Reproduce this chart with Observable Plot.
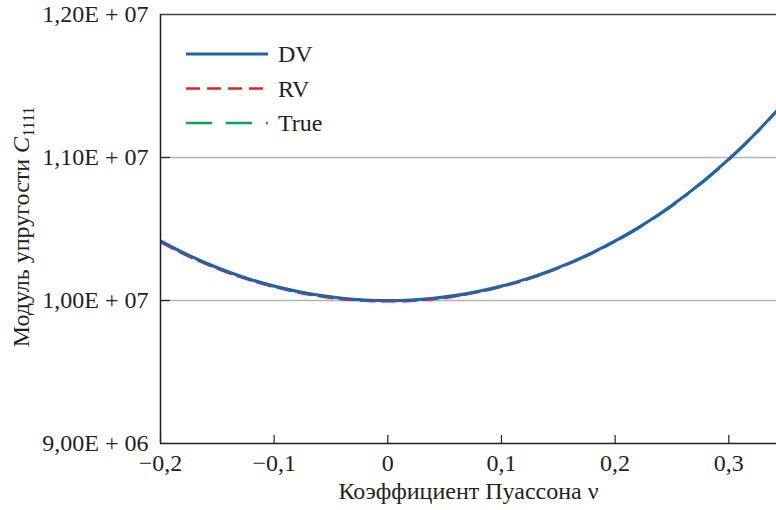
<!DOCTYPE html>
<html>
<head>
<meta charset="utf-8">
<script src="https://cdn.jsdelivr.net/npm/d3@7"></script>
<script src="https://cdn.jsdelivr.net/npm/@observablehq/plot@0.6"></script>
<style>
  html, body { margin: 0; padding: 0; background: #fff; }
  #chart { position: relative; width: 776px; height: 510px; }
  #chart svg, #chart svg text { font-family: "Liberation Serif", "Times New Roman", serif !important; }
</style>
</head>
<body>
<div id="chart"></div>
<script>
// Poisson ratio (x) values
const nu = [-0.20, -0.18, -0.16, -0.14, -0.12, -0.10, -0.08, -0.06, -0.04, -0.02, 0.00,
            0.02, 0.04, 0.06, 0.08, 0.10, 0.12, 0.14, 0.16, 0.18, 0.20,
            0.22, 0.24, 0.26, 0.28, 0.30, 0.32, 0.34, 0.345];
// Series values (C1111)
const dvValues = [10417000, 10335000, 10263000, 10200000, 10146000, 10101000, 10065000, 10036000, 10016000, 10004000, 10000000,
                  10004000, 10016000, 10036000, 10065000, 10101000, 10146000, 10200000, 10263000, 10335000, 10417000,
                  10508000, 10611000, 10725000, 10851000, 10989000, 11140000, 11307000, 11352000];
const rvValues = [10408000, 10326000, 10255000, 10192000, 10139000, 10094000, 10058000, 10029000, 10009000, 9998000, 9994000,
                  9997000, 10009000, 10030000, 10059000, 10096000, 10141000, 10195000, 10259000, 10331000, 10414000,
                  10505000, 10609000, 10723000, 10849000, 10987000, 11139000, 11306000, 11351000];
const trueValues = [10413000, 10331000, 10260000, 10197000, 10143000, 10098000, 10062000, 10033000, 10013000, 10001000, 9997000,
                    10001000, 10013000, 10033000, 10062000, 10098000, 10143000, 10196000, 10259000, 10330000, 10412000,
                    10503000, 10605000, 10719000, 10845000, 10984000, 11135000, 11303000, 11349000];
// Ticks and labels
const xTicks = [-0.2, -0.1, 0, 0.1, 0.2, 0.3];
const xTickLabels = ["\u22120,2", "\u22120,1", "0", "0,1", "0,2", "0,3"];
const yTicks = [9000000, 10000000, 11000000, 12000000];
const yTickLabels = ["9,00E + 06", "1,00E + 07", "1,10E + 07", "1,20E + 07"];
const xDomain = [-0.2, 0.342];
const yDomain = [9000000, 12000000];
const seriesNames = ["DV", "RV", "True"];
const xTitle = "Коэффициент Пуассона ν";
const yTitleMain = "Модуль упругости ";
const yTitleVar = "C";
const yTitleSub = "1111";

const colors = {DV: "#1f63ad", RV: "#ed1c24", True: "#00a651"};
const dashes = {DV: null, RV: "14,7", True: "26,14,26,14,2,14"};
const widths = {DV: 3, RV: 2.5, True: 2.5};

const rows = (vals, s) => nu.map((x, i) => ({x, y: vals[i], s}));
const dv = rows(dvValues, "DV"), rv = rows(rvValues, "RV"), tr = rows(trueValues, "True");

const textColor = "#231f20";
const serif = "'Liberation Serif', 'Times New Roman', serif";
const fs = 24;

const plot = Plot.plot({
  width: 776,
  height: 510,
  marginLeft: 160,
  marginRight: 0,
  marginTop: 14,
  marginBottom: 67,
  style: {fontFamily: serif, fontSize: fs + "px", color: textColor, background: "#fff"},
  x: {domain: xDomain},
  y: {domain: yDomain},
  marks: [
    Plot.ruleY([10000000, 11000000], {stroke: "#b3b3b3", strokeWidth: 1.5}),
    Plot.line(tr, {x: "x", y: "y", stroke: colors.True, strokeWidth: widths.True, strokeDasharray: dashes.True, curve: "catmull-rom", clip: true}),
    Plot.line(rv, {x: "x", y: "y", stroke: colors.RV, strokeWidth: widths.RV, strokeDasharray: dashes.RV, curve: "catmull-rom", clip: true}),
    Plot.line(dv, {x: "x", y: "y", stroke: colors.DV, strokeWidth: widths.DV, curve: "catmull-rom", clip: true}),
    Plot.ruleY([yDomain[1]], {stroke: "#444", strokeWidth: 1.5}),
    Plot.ruleY([yDomain[0]], {stroke: textColor, strokeWidth: 1.5}),
    Plot.ruleX([xDomain[0]], {stroke: textColor, strokeWidth: 1.5}),
    Plot.axisX({ticks: xTicks, tickSize: -8, text: null, label: null, stroke: textColor, strokeWidth: 1.2}),
    Plot.axisX({ticks: xTicks, tickSize: 0, tickPadding: 10, tickFormat: (d) => xTickLabels[xTicks.indexOf(d)], label: null, fill: textColor, fontSize: fs, fontFamily: serif}),
    Plot.axisY({ticks: yTicks.slice(1, 3), tickSize: -10, text: null, label: null, stroke: textColor, strokeWidth: 1.2}),
    Plot.axisY({ticks: yTicks, tickSize: 0, tickPadding: 12, tickFormat: (d) => yTickLabels[yTicks.indexOf(d)], label: null, fill: textColor, fontSize: fs, fontFamily: serif}),
    Plot.text([xTitle], {frameAnchor: "bottom", dy: 55, text: (d) => d, fill: textColor, fontSize: fs, fontFamily: serif})
  ]
});

document.getElementById("chart").appendChild(plot);

const svg = d3.select(plot);

// Y title with italic C and subscript
const yt = svg.append("text")
  .attr("transform", "translate(29,227) rotate(-90)")
  .attr("text-anchor", "middle")
  .attr("fill", textColor)
  .attr("font-size", fs);
yt.append("tspan").text(yTitleMain);
yt.append("tspan").attr("font-style", "italic").text(yTitleVar);
yt.append("tspan").attr("font-size", 16).attr("dy", 5).text(yTitleSub);

// Legend
const leg = svg.append("g");
seriesNames.forEach((name, i) => {
  const y = 54 + i * 34.5;
  leg.append("line")
    .attr("x1", 186).attr("x2", 268).attr("y1", y).attr("y2", y)
    .attr("stroke", colors[name]).attr("stroke-width", widths[name])
    .attr("stroke-dasharray", dashes[name]);
  leg.append("text")
    .attr("x", 278).attr("y", y).attr("dy", "0.35em")
    .attr("text-anchor", "start")
    .attr("fill", textColor).attr("font-size", fs)
    .text(name);
});
svg.selectAll("text").style("font-family", serif);
</script>
</body>
</html>
